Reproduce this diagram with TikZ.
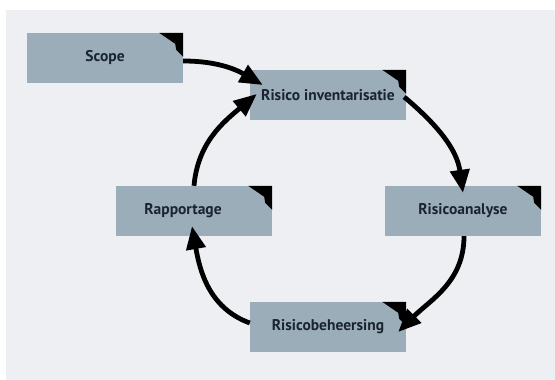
\documentclass[tikz,border=0pt]{standalone}
\usepackage{fontspec}
\setmainfont{PT Sans}
\usetikzlibrary{arrows.meta,calc}
\definecolor{bgc}{HTML}{EDEFF2}
\definecolor{boxc}{HTML}{9BADB8}
\definecolor{txtc}{HTML}{1A2430}
\tikzset{
  stage/.style={rectangle, fill=boxc, minimum width=156pt, minimum height=50pt, inner sep=0pt,
    font=\fontsize{15.5}{18}\selectfont\bfseries, text=txtc},
  flow/.style={line width=4.8pt, -{Triangle[length=23pt,width=19pt]}, black},
}
\newcommand{\foldcorner}[1]{%
  \fill[black] ($(#1.north east)+(-24,0)$) -- (#1.north east) -- ($(#1.north east)+(0,-24)$)
    -- ($(#1.north east)+(-7,-17)$) -- ($(#1.north east)+(-8,-11)$) -- cycle;}
\begin{document}
\begin{tikzpicture}[x=1pt,y=1pt]
\useasboundingbox (0,0) rectangle (555,380);
\fill[white] (0,0) rectangle (555,380);
\fill[bgc] (6,0) rectangle (555,370);
\node[stage] (scope) at (105,322) {Scope};
\node[stage] (ri) at (328,285) {Risico inventarisatie};
\node[stage] (rap) at (194,169) {\hspace*{-22pt}Rapportage};
\node[stage] (ra) at (463,169) {Risicoanalyse};
\node[stage] (rb) at (328,53) {Risicobeheersing};
\foldcorner{scope}
\foldcorner{ri}
\foldcorner{rap}
\foldcorner{ra}
\foldcorner{rb}
\draw[flow] ($(scope.east)+(0,-3)$) to[out=0,in=150] ($(ri.west)+(13,10)$);
\draw[flow] ($(ri.east)+(-2,-2)$) to[out=-40,in=98] ($(ra.north)+(0,-7)$);
\draw[flow] ($(ra.south)+(1,0)$) to[out=-90,in=45] ($(rb.east)+(-8,-5)$);
\draw[flow] ($(rb.west)+(0,4)$) to[out=160,in=-80] ($(rap.south)+(-2,10)$);
\draw[flow] (rap.north) to[out=85,in=220] ($(ri.west)+(7,1)$);
\end{tikzpicture}
\end{document}
